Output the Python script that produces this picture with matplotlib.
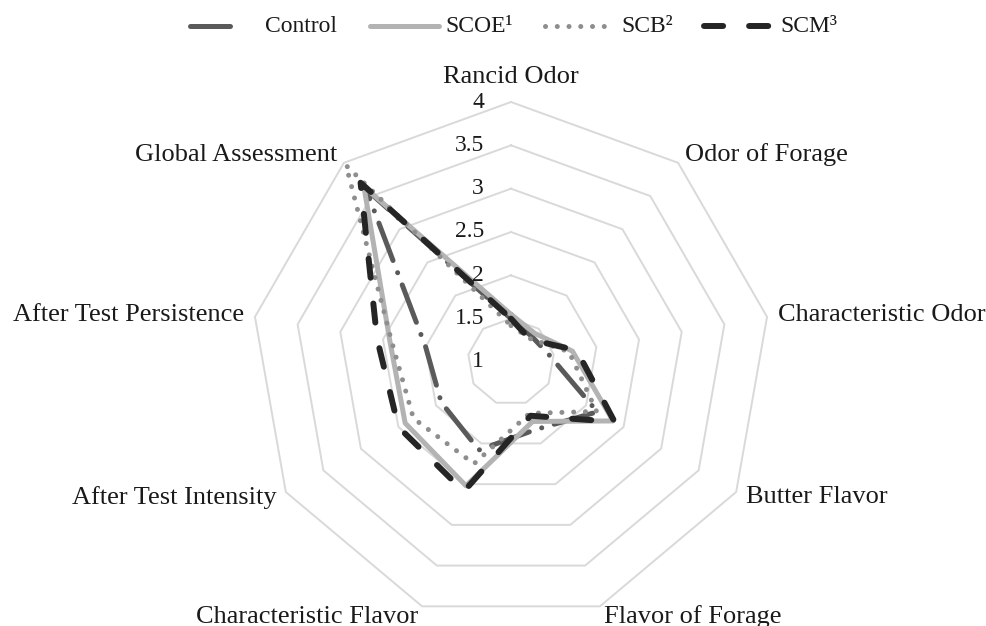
import numpy as np
import matplotlib
matplotlib.use('Agg')
import matplotlib.pyplot as plt
from matplotlib.lines import Line2D

plt.rcParams['font.family'] = ['Liberation Serif', 'DejaVu Serif']

# --- dados ---
categorias = ['Rancid Odor', 'Odor of Forage', 'Characteristic Odor', 'Butter Flavor',
              'Flavor of Forage', 'Characteristic Flavor', 'After Test Intensity',
              'After Test Persistence', 'Global Assessment']
control = [1.50, 1.38, 1.45, 2.15, 1.83, 2.08, 1.93, 2.00, 3.60]
scoe = [1.55, 1.43, 1.72, 2.36, 1.73, 2.52, 2.41, 2.42, 3.64]
scb = [1.42, 1.35, 1.68, 2.14, 1.63, 2.25, 2.30, 2.40, 3.96]
scm = [1.50, 1.34, 1.77, 2.38, 1.66, 2.59, 2.50, 2.57, 3.70]
niveis = [1, 1.5, 2, 2.5, 3, 3.5, 4]
nomes_legenda = ['Control', 'SCOE\u00b9', 'SCB\u00b2', 'SCM\u00b3']

# estilo de cada série: cor, largura, tracejado
estilos = [
    ('#5a5a5a', 3.6, (0, (8, 2.6, 0.01, 2.6))),
    ('#b3b3b3', 3.6, '-'),
    ('#8e8e8e', 3.6, (0, (0.01, 2.34))),
    ('#252525', 4.3, (0, (3.2, 4.35))),
]
valores = [control, scoe, scb, scm]

W, H = 987, 626
fig = plt.figure(figsize=(W / 100, H / 100), dpi=100)
fig.patch.set_facecolor('white')

cx, cy, R = 511, 362, 260
ax = fig.add_axes([(cx - R) / W, (H - cy - R) / H, 2 * R / W, 2 * R / H], projection='polar')
ax.set_theta_zero_location('N')
ax.set_theta_direction(-1)
ax.set_ylim(1, 4)
ax.set_xticks([])
ax.set_yticks([])
ax.grid(False)
ax.spines['polar'].set_visible(False)
ax.patch.set_alpha(0)

n = len(categorias)
ang = np.linspace(0, 2 * np.pi, n, endpoint=False)
fechado = np.append(ang, ang[0])

# grade em forma de polígono (sem raios)
for nv in niveis[1:]:
    ax.plot(fechado, [nv] * (n + 1), color='#d9d9d9', lw=1.4, zorder=1, clip_on=False)

# séries
for vals, (cor, lw, ls) in zip(valores, estilos):
    ax.plot(fechado, vals + [vals[0]], color=cor, lw=lw, linestyle=ls,
            dash_capstyle='round', solid_capstyle='round', solid_joinstyle='round',
            dash_joinstyle='round', zorder=3, clip_on=False)

# rótulos do eixo radial
for nv in niveis:
    ax.annotate(f'{nv:g}', xy=(0, nv), xytext=(-27, 0), textcoords='offset pixels',
                ha='right', va='center', fontsize=17, color='#1a1a1a', annotation_clip=False)

# rótulos das categorias
for i, nome in enumerate(categorias):
    graus = 360 / n * i
    if graus == 0:
        ax.text(ang[i], 4.29, nome, ha='center', va='center', fontsize=19, color='#1a1a1a')
    elif graus < 180:
        ax.text(ang[i], 4.125, nome, ha='left', va='center', fontsize=19, color='#1a1a1a')
    else:
        ax.text(ang[i], 4.125, nome, ha='right', va='center', fontsize=19, color='#1a1a1a')

# legenda feita à mão no topo
ly = 1 - 26 / H
pos_linhas = [(190, 234), (370, 439), (545, 612), (704, 772)]
pos_textos = [265, 445, 621, 780]
for (x0, x1), xt, nome, (cor, lw, ls) in zip(pos_linhas, pos_textos, nomes_legenda, estilos):
    fig.add_artist(Line2D([x0 / W, x1 / W], [ly, ly], transform=fig.transFigure,
                          color=cor, lw=lw, linestyle=ls, dash_capstyle='round',
                          solid_capstyle='round'))
    fig.text(xt / W, ly, nome, ha='left', va='center', fontsize=17, color='#1a1a1a')

fig.savefig('out.png', dpi=100)
